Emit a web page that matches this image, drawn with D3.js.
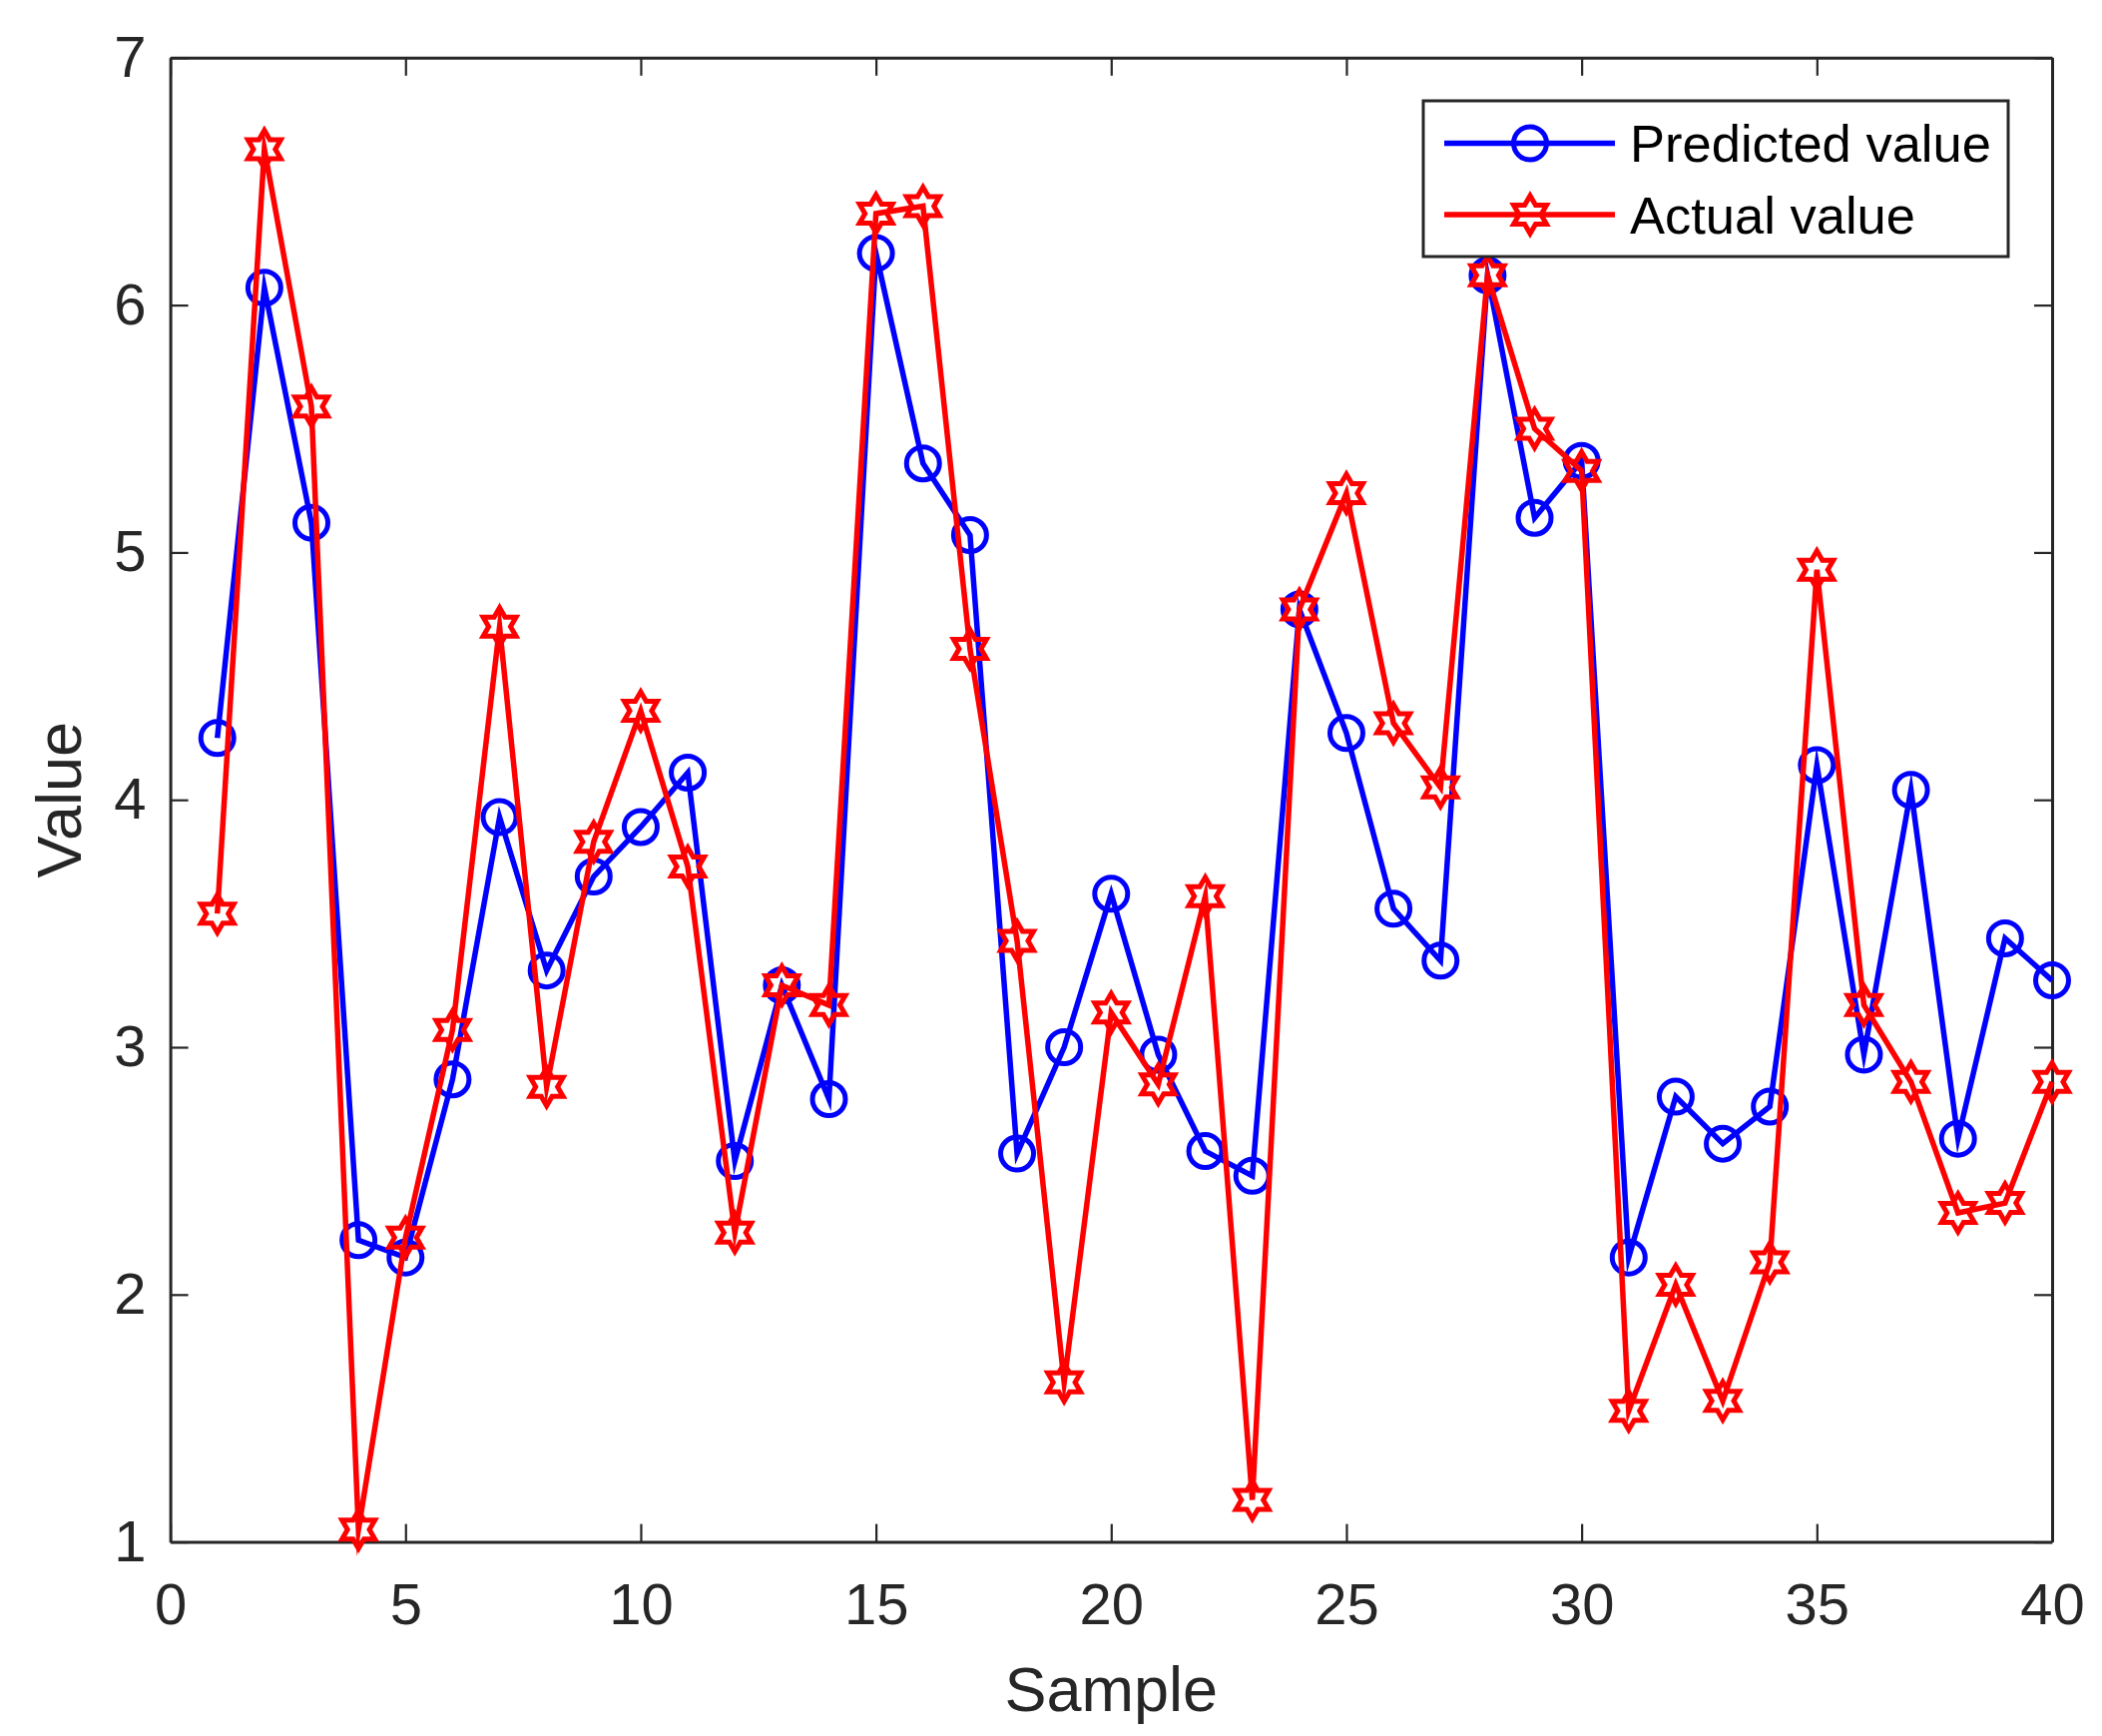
<!DOCTYPE html>
<html>
<head>
<meta charset="utf-8">
<script src="https://cdn.jsdelivr.net/npm/d3@7"></script>
<style>
  html, body { margin: 0; padding: 0; background: #fff; }
  svg { display: block; }
  text { font-family: "Liberation Sans", Arial, Helvetica, sans-serif; }
</style>
</head>
<body>
<script>
// ---------- data ----------
const samples = d3.range(1, 41);
const predicted = [4.25, 6.07, 5.12, 2.22, 2.15, 2.87, 3.93, 3.31, 3.69, 3.89,
                   4.11, 2.54, 3.25, 2.79, 6.21, 5.36, 5.07, 2.57, 3.00, 3.62,
                   2.97, 2.58, 2.48, 4.77, 4.27, 3.56, 3.35, 6.12, 5.14, 5.37,
                   2.15, 2.80, 2.61, 2.76, 4.14, 2.97, 4.04, 2.63, 3.44, 3.27];
const actual = [3.54, 6.63, 5.59, 1.05, 2.23, 3.07, 4.70, 2.84, 3.83, 4.36,
                3.73, 2.25, 3.25, 3.17, 6.37, 6.40, 4.61, 3.43, 1.645, 3.14,
                2.85, 3.61, 1.17, 4.77, 5.24, 4.31, 4.05, 6.12, 5.50, 5.33,
                1.53, 2.04, 1.57, 2.13, 4.93, 3.17, 2.86, 2.33, 2.37, 2.86];
const xTicks = [0, 5, 10, 15, 20, 25, 30, 35, 40];
const yTicks = [1, 2, 3, 4, 5, 6, 7];
const seriesNames = ["Predicted value", "Actual value"];
const xLabel = "Sample";
const yLabel = "Value";

// ---------- layout ----------
const W = 2106, H = 1739;
const L = 170.6, R = 2056, T = 57.8, B = 1544.6;
const axisColor = "#262626";

const svg = d3.select("body").append("svg").attr("width", W).attr("height", H);

const x = d3.scaleLinear().domain([0, 40]).range([L, R]);
const y = d3.scaleLinear().domain([1, 7]).range([B, T]);
const fmt = d3.format("d");

function styleAxis(g) {
  g.select(".domain").attr("stroke", axisColor).attr("stroke-width", 3);
  g.selectAll(".tick line").attr("stroke", axisColor).attr("stroke-width", 2.2);
  g.selectAll(".tick text").attr("fill", axisColor)
    .style("font-family", '"Liberation Sans", Arial, sans-serif');
}

// bottom axis
svg.append("g").attr("transform", `translate(0,${B})`)
  .call(d3.axisBottom(x).tickValues(xTicks).tickFormat(fmt).tickSizeInner(-18).tickSizeOuter(0).tickPadding(41))
  .call(g => g.selectAll(".tick text").attr("font-size", 58))
  .call(styleAxis);
// top axis
svg.append("g").attr("transform", `translate(0,${T})`)
  .call(d3.axisTop(x).tickValues(xTicks).tickSizeInner(-18).tickSizeOuter(0).tickFormat(""))
  .call(styleAxis);
// left axis
svg.append("g").attr("transform", `translate(${L},0)`)
  .call(d3.axisLeft(y).tickValues(yTicks).tickFormat(fmt).tickSizeInner(-18).tickSizeOuter(0).tickPadding(24))
  .call(g => g.selectAll(".tick text").attr("font-size", 58))
  .call(styleAxis);
// right axis
svg.append("g").attr("transform", `translate(${R},0)`)
  .call(d3.axisRight(y).tickValues(yTicks).tickSizeInner(-18).tickSizeOuter(0).tickFormat(""))
  .call(styleAxis);

// axis labels
svg.append("text").attr("x", (L + R) / 2).attr("y", 1714)
  .attr("text-anchor", "middle").attr("font-size", 63).attr("fill", axisColor).text(xLabel);
svg.append("text").attr("transform", `translate(81,${(T + B) / 2}) rotate(-90)`)
  .attr("text-anchor", "middle").attr("font-size", 63).attr("fill", axisColor).text(yLabel);

// ---------- markers ----------
function hexagram(R0) {
  const r0 = R0 / Math.sqrt(3);
  const pts = [];
  for (let k = 0; k < 12; k++) {
    const a = (-90 + k * 30) * Math.PI / 180;
    const rr = k % 2 === 0 ? R0 : r0;
    pts.push([rr * Math.cos(a), rr * Math.sin(a)]);
  }
  return "M" + pts.map(p => p[0].toFixed(2) + "," + p[1].toFixed(2)).join("L") + "Z";
}
const starPath = hexagram(19);
const lineW = 5.5, markW = 5, circR = 16.5;

const line = d3.line().x((d, i) => x(samples[i])).y(d => y(d));

function drawSeries(values, color, marker) {
  const g = svg.append("g");
  g.append("path").datum(values).attr("d", line)
    .attr("fill", "none").attr("stroke", color).attr("stroke-width", lineW)
    .attr("stroke-linejoin", "miter").attr("stroke-miterlimit", 10);
  if (marker === "circle") {
    g.selectAll("circle").data(values).join("circle")
      .attr("cx", (d, i) => x(samples[i])).attr("cy", d => y(d)).attr("r", circR)
      .attr("fill", "none").attr("stroke", color).attr("stroke-width", markW);
  } else {
    g.selectAll("path.star").data(values).join("path").attr("class", "star")
      .attr("d", starPath)
      .attr("transform", (d, i) => `translate(${x(samples[i])},${y(d)})`)
      .attr("fill", "none").attr("stroke", color).attr("stroke-width", markW);
  }
}
drawSeries(predicted, "#0000FF", "circle");
drawSeries(actual, "#FF0000", "star");

// ---------- legend ----------
const lg = svg.append("g");
lg.append("rect").attr("x", 1426).attr("y", 101).attr("width", 586).attr("height", 156)
  .attr("fill", "#fff").attr("stroke", axisColor).attr("stroke-width", 3);
const legendRows = [
  { name: seriesNames[0], color: "#0000FF", marker: "circle", cy: 143.5 },
  { name: seriesNames[1], color: "#FF0000", marker: "star", cy: 215 }
];
legendRows.forEach(r => {
  lg.append("line").attr("x1", 1447).attr("x2", 1618).attr("y1", r.cy).attr("y2", r.cy)
    .attr("stroke", r.color).attr("stroke-width", lineW);
  if (r.marker === "circle") {
    lg.append("circle").attr("cx", 1533).attr("cy", r.cy).attr("r", circR)
      .attr("fill", "none").attr("stroke", r.color).attr("stroke-width", markW);
  } else {
    lg.append("path").attr("d", starPath).attr("transform", `translate(1533,${r.cy})`)
      .attr("fill", "none").attr("stroke", r.color).attr("stroke-width", markW);
  }
  lg.append("text").attr("x", 1633).attr("y", r.cy + 18.5).attr("font-size", 52.5)
    .attr("fill", "#000").text(r.name);
});
</script>
</body>
</html>
